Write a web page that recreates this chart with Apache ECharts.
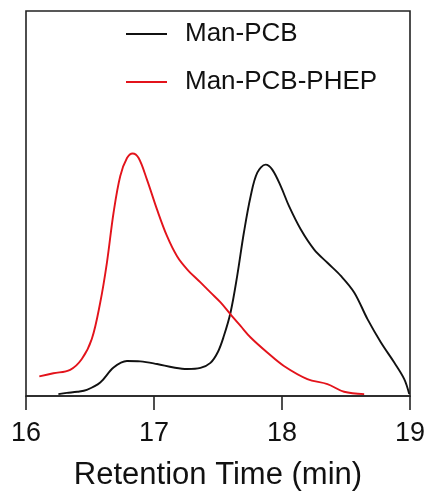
<!DOCTYPE html>
<html>
<head>
<meta charset="utf-8">
<style>html,body{margin:0;padding:0;background:#fff}#c{width:431px;height:495px}</style>
<script src="https://cdn.jsdelivr.net/npm/echarts@6/dist/echarts.min.js"></script>
</head>
<body>
<div id="c"></div>
<script>
var seriesNames = ['Man-PCB', 'Man-PCB-PHEP'];
var xTicks = [16, 17, 18, 19];

var blackTime = [16.253, 16.319, 16.40, 16.475, 16.58, 16.684, 16.789, 16.893, 17.024, 17.154, 17.259, 17.363, 17.441, 17.50, 17.545, 17.598, 17.65, 17.702, 17.755, 17.807, 17.872, 17.924, 17.99, 18.055, 18.146, 18.25, 18.355, 18.46, 18.564, 18.669, 18.773, 18.877, 18.955, 18.994];
var blackVal  = [0.5, 0.8, 1.1, 1.6, 3.5, 7.4, 9.1, 9.0, 8.3, 7.4, 7.0, 7.3, 8.6, 11.5, 15.5, 21.7, 31.2, 42.4, 51.9, 58.0, 60.1, 58.8, 54.5, 49.3, 43.3, 38.1, 34.6, 31.2, 26.9, 19.9, 13.9, 8.7, 4.4, 0.5];

var redTime = [16.104, 16.214, 16.345, 16.436, 16.514, 16.58, 16.632, 16.684, 16.736, 16.789, 16.833, 16.88, 16.945, 17.024, 17.102, 17.18, 17.259, 17.363, 17.441, 17.52, 17.598, 17.676, 17.755, 17.885, 18.015, 18.198, 18.355, 18.485, 18.642];
var redVal  = [5.1, 5.9, 6.8, 9.6, 14.8, 24.3, 34.6, 47.6, 57.1, 61.8, 63.0, 61.8, 56.2, 48.4, 41.5, 36.3, 32.9, 29.5, 26.9, 24.3, 21.2, 18.2, 15.2, 11.3, 7.8, 4.4, 3.1, 1.1, 0.5];

function zip(a, b) { return a.map(function (v, i) { return [v, b[i]]; }); }

var chart = echarts.init(document.getElementById('c'), null, {renderer: 'canvas'});
var font = '"Liberation Sans", Arial, sans-serif';
chart.setOption({
  animation: false,
  backgroundColor: '#fff',
  grid: {left: 26, right: 21, top: 11, bottom: 99, show: true, borderColor: '#222', borderWidth: 1.6,
         containLabel: false, outerBoundsMode: 'none'},
  legend: {
    orient: 'vertical', left: 121, top: 16, itemGap: 22,
    itemWidth: 41, itemHeight: 2, icon: 'rect',
    textStyle: {fontFamily: font, fontSize: 26, color: '#111', padding: [0, 0, 0, 13]},
    data: seriesNames
  },
  xAxis: {
    type: 'value', min: xTicks[0], max: xTicks[xTicks.length - 1], interval: 1,
    name: 'Retention Time (min)', nameLocation: 'middle', nameGap: 64,
    nameTextStyle: {fontFamily: font, fontSize: 31, color: '#111'},
    axisLine: {show: true, lineStyle: {color: '#222', width: 1.6}},
    axisTick: {show: true, inside: false, length: 14, lineStyle: {color: '#222', width: 1.6}},
    axisLabel: {fontFamily: font, fontSize: 27, color: '#111', margin: 24},
    splitLine: {show: false}
  },
  yAxis: {
    type: 'value', min: 0, max: 100,
    axisLine: {show: false}, axisTick: {show: false}, axisLabel: {show: false}, splitLine: {show: false}
  },
  series: [
    {name: seriesNames[0], type: 'line', data: zip(blackTime, blackVal), smooth: 0.35, showSymbol: false,
     lineStyle: {color: '#111', width: 1.9}, itemStyle: {color: '#111'}},
    {name: seriesNames[1], type: 'line', data: zip(redTime, redVal), smooth: 0.35, showSymbol: false,
     lineStyle: {color: '#e3131b', width: 1.9}, itemStyle: {color: '#e3131b'}}
  ]
});
</script>
</body>
</html>
